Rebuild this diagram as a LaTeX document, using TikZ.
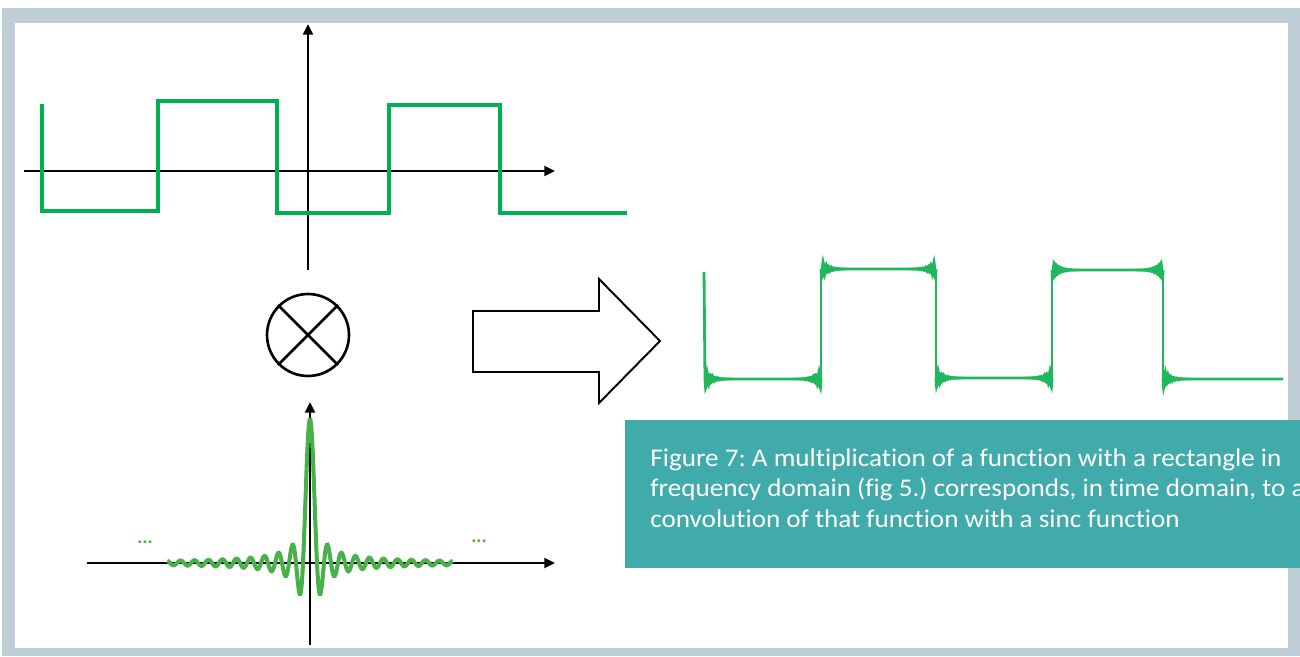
\documentclass[tikz,border=0pt]{standalone}
\usepackage{fontspec}
\setmainfont{Carlito}[Ligatures = NoCommon]
\newfontfamily\captionfont{Carlito}[Ligatures = NoCommon, FakeStretch = 1.065]
\usetikzlibrary{arrows.meta}
\frenchspacing

\definecolor{framegray}{RGB}{191,205,214}
\definecolor{squaregreen}{RGB}{0,176,80}
\definecolor{ringgreen}{RGB}{32,184,92}
\definecolor{sincgreen}{RGB}{72,178,72}
\definecolor{capteal}{RGB}{65,170,170}

\tikzset{
	axis/.style = {line width = 1.5pt, -{Triangle[length = 6pt, width = 5.5pt]}},
	squareline/.style = {squaregreen, line width = 2.8pt},
	ringline/.style = {ringgreen, line width = 1.6pt},
	sincline/.style = {sincgreen, line width = 2.3pt},
	dots/.style = {text = sincgreen, font = \fontsize{11}{11}\selectfont\bfseries, inner sep = 0pt}
}

\begin{document}
\begin{tikzpicture} [x = 0.02cm, y = -0.02cm]
	\useasboundingbox (0,0) rectangle (1300,656);
	% frame
	\fill [framegray] (2,8) rectangle (1300,656);
	\fill [white] (15,23) rectangle (1288,648);

	% input: square wave
	\coordinate (ax1l) at (24,171);
	\coordinate (ax1r) at (555,171);
	\coordinate (ax1b) at (308,270);
	\coordinate (ax1t) at (308,24);
	\draw [axis] (ax1l) -- (ax1r);
	\draw [axis] (ax1b) -- (ax1t);
	\draw [squareline] (42,104) -- (42,211) -- (158,211) -- (158,101) -- (277,101) -- (277,213)
		-- (389,213) -- (389,105) -- (500,105) -- (500,213) -- (627,213);

	% multiplication sign
	\node [circle, draw, line width = 1.5pt, minimum size = 1.64cm, inner sep = 0pt] (mult) at (308,335) {};
	\draw [line width = 1.5pt] (mult.north west) -- (mult.south east);
	\draw [line width = 1.5pt] (mult.north east) -- (mult.south west);

	% sinc
	\coordinate (ax2l) at (87,563);
	\coordinate (ax2r) at (555,563);
	\coordinate (ax2b) at (310,645);
	\coordinate (ax2t) at (310,402);
	\draw [axis] (ax2l) -- (ax2r);
	\draw [axis] (ax2b) -- (ax2t);
	\draw [sincline] plot [domain = -20.4:20.4, samples = 400, smooth] ({310+7*\x}, {563-144*sin(180*\x)/(pi*\x)});
	\node [dots] (dotsl) at (145,542) {...};
	\node [dots] (dotsr) at (479,541) {...};

	% result arrow
	\draw [line width = 1.1pt, line join = miter] (473,311) -- (599,311) -- (599,279) -- (660,341)
		-- (599,403) -- (599,372) -- (473,372) -- cycle;

	% output: square wave with ringing
	\draw [ringline] (704,272) -- (705,379);
	\draw [ringline] (821,379) -- (821,269);
	\draw [ringline] (936,269) -- (936,378);
	\draw [ringline] (1052,378) -- (1052,270);
	\draw [ringline] (1163,270) -- (1163,379);
	\foreach \xa/\xb/\lev/\ar in {705/821/379/10, 821/936/269/10, 936/1052/378/10, 1052/1163/270/10, 1163/1283/379/0}
		\draw [ringline] plot [domain = \xa:\xb, samples = 400]
			(\x, {\lev + 10*exp(-min(\x-\xa,35)/6)*sin(130*min(\x-\xa,35)) + \ar*exp(-min(\xb-\x,35)/6)*sin(130*min(\xb-\x,35))});

	% caption
	\fill [capteal] (625,420) rectangle (1300,568);
	\node [anchor = north west, inner sep = 0pt, align = left, text = white,
		font = \captionfont\fontsize{14.5}{17.4}\selectfont] (caption) at (650,448)
		{Figure 7: A multiplication of a function with a rectangle in\\
		frequency domain (fig 5.) corresponds, in time domain, to a\\
		convolution of that function with a sinc function};
\end{tikzpicture}
\end{document}
